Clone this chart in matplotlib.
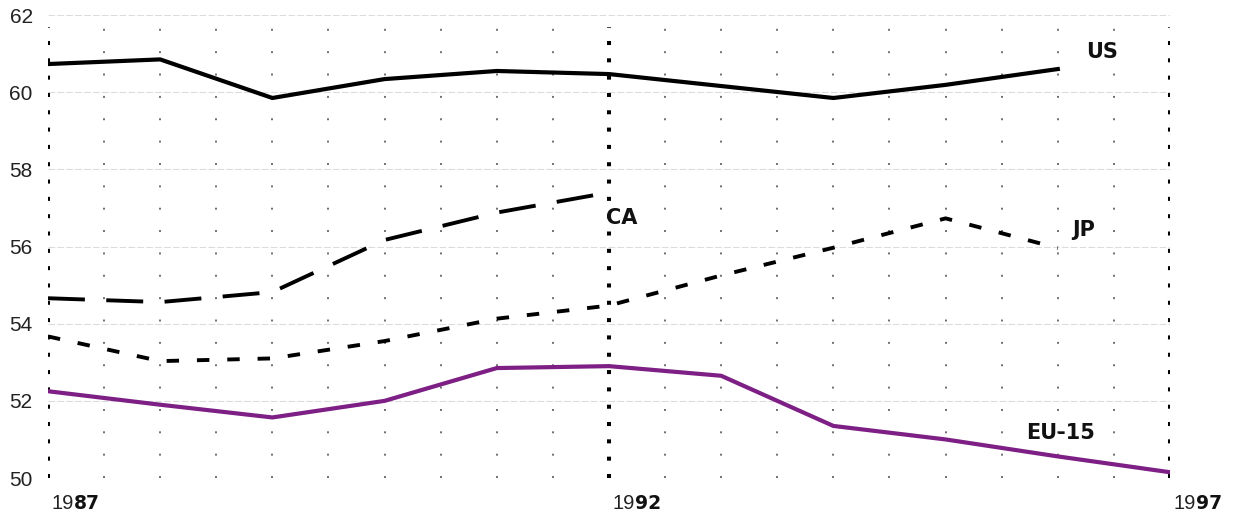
import matplotlib
matplotlib.use("Agg")
import matplotlib.pyplot as plt
import numpy as np

# Employment rates, values
years = [1987, 1988, 1989, 1990, 1991, 1992, 1993, 1994, 1995, 1996, 1997]
us = [60.73, 60.85, 59.85, 60.34, 60.55, 60.47, 60.16, 59.85, 60.19, 60.6]
ca = [54.66, 54.56, 54.82, 56.17, 56.88, 57.4]
jp = [53.67, 53.03, 53.1, 53.55, 54.13, 54.47, 55.25, 55.97, 56.73, 55.96]
eu = [52.25, 51.9, 51.57, 52.0, 52.85, 52.9, 52.65, 51.35, 51.0, 50.56, 50.15]

y_ticks = [50, 52, 54, 56, 58, 60, 62]
major_years = [1987, 1992, 1997]

plt.rcParams['font.family'] = ['Liberation Sans Narrow', 'Liberation Sans', 'DejaVu Sans']

fig = plt.figure(figsize=(12.33, 5.15), dpi=100)
ax = fig.add_axes([0.0389, 0.0718, 0.9100, 0.8990])
ax.set_xlim(1987, 1997)
ax.set_ylim(50, 62)

# faint horizontal lines every 2 points
for v in y_ticks:
    ax.axhline(v, color='#dcdcdc', lw=0.8, ls=(0, (6, 2)), zorder=0)

# small grey dotted verticals every half year
for x in np.arange(1987.5, 1997, 0.5):
    if x in major_years:
        continue
    ax.axvline(x, color='#6e6e6e', lw=1.4, ls=(0, (1, 10.5)), dash_capstyle='butt', zorder=1)

# heavy dotted verticals at 1987, 1992, 1997
for x in major_years:
    ax.axvline(x, ymin=0.0, ymax=0.975, color='black', lw=2.9, ls=(0, (1, 3.3)),
               dash_capstyle='butt', zorder=2)

ax.plot(years[:len(us)], us, color='black', lw=3.0, zorder=3)
ax.plot(years[:len(ca)], ca, color='black', lw=2.8, ls=(0, (9.5, 5.5)), dash_capstyle='butt', zorder=3)
ax.plot(years[:len(jp)], jp, color='black', lw=2.8, ls=(0, (3.2, 4.6)), dash_capstyle='butt', zorder=3)
ax.plot(years[:len(eu)], eu, color='#7d1f84', lw=3.0, zorder=3)

# series labels
lab = dict(fontsize=15, fontweight='bold', family=['DejaVu Sans'], color='#111111', zorder=4)
ax.text(1996.25, 61.04, 'US', ha='left', va='center', **lab)
ax.text(1991.97, 56.74, 'CA', ha='left', va='center', **lab)
ax.text(1996.13, 56.43, 'JP', ha='left', va='center', **lab)
ax.text(1995.72, 51.17, 'EU-15', ha='left', va='center', **lab)

# y tick labels
ax.set_yticks(y_ticks)
ax.set_yticklabels([str(v) for v in y_ticks], fontsize=15, color='#222222')
ax.tick_params(axis='y', length=0, pad=11)
ax.set_xticks([])
for s in ax.spines.values():
    s.set_visible(False)

# year labels: first two digits light, last two bold
for x in major_years:
    s = str(x)
    t = ax.text(x + 0.03, 49.2, s[:2], ha='left', va='baseline', fontsize=14.5,
                family=['Liberation Sans Narrow', 'Liberation Sans'], color='#222222', clip_on=False)
    ax.annotate(s[2:], xy=(1, 0), xycoords=t, va='bottom', ha='left', fontsize=13.5,
                fontweight='bold', family=['DejaVu Sans'], color='#111111',
                annotation_clip=False)

fig.savefig('out.png', dpi=100)
